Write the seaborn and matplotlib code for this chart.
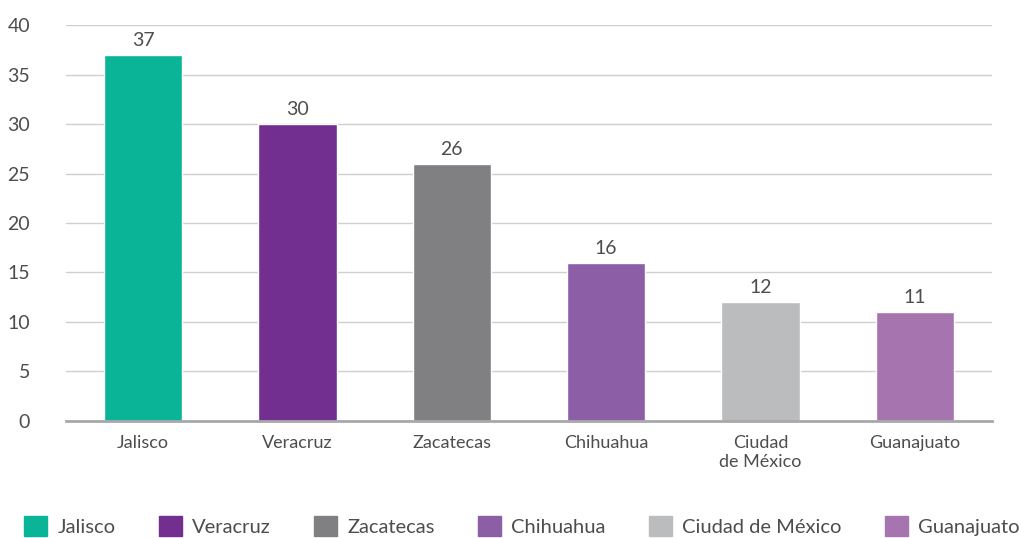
import matplotlib
matplotlib.use("Agg")
import matplotlib.pyplot as plt
import seaborn as sns
import pandas as pd

# Data
states = ["Jalisco", "Veracruz", "Zacatecas", "Chihuahua", "Ciudad de México", "Guanajuato"]
tick_labels = ["Jalisco", "Veracruz", "Zacatecas", "Chihuahua", "Ciudad\nde México", "Guanajuato"]
values = [37, 30, 26, 16, 12, 11]
colors = ["#09b596", "#722f8f", "#808083", "#8b5ea6", "#bbbcbe", "#a675b0"]

df = pd.DataFrame({"estado": states, "valor": values})

sns.set_style("white")
plt.rcParams["font.family"] = ["Lato", "DejaVu Sans"]
text_color = "#4d4d4d"

fig = plt.figure(figsize=(10.19, 5.38), dpi=100)
ax = fig.add_axes([0.0648, 0.2175, 0.9087, 0.736])

sns.barplot(data=df, x="estado", y="valor", hue="estado", palette=colors,
            width=0.506, dodge=False, legend=False, ax=ax, saturation=1)

for i, v in enumerate(values):
    ax.text(i, v + 0.6, str(v), ha="center", va="bottom", fontsize=14, color=text_color)

ax.set_ylim(0, 40)
ax.set_xlim(-0.5, len(states) - 0.5)
ax.set_yticks(range(0, 41, 5))
ax.yaxis.grid(True, color="#cfcfcf", linewidth=1)
ax.set_axisbelow(True)
ax.set_xticks(range(len(states)))
ax.set_xticklabels(tick_labels, fontsize=13, color=text_color, linespacing=1.25)
ax.tick_params(axis="y", labelsize=14, colors=text_color, length=0, pad=26)
ax.tick_params(axis="x", length=0, pad=10)
ax.set_xlabel("")
ax.set_ylabel("")
for s in ["top", "right", "left"]:
    ax.spines[s].set_visible(False)
ax.spines["bottom"].set_color("#a8a8aa")
ax.spines["bottom"].set_linewidth(2)

handles = [plt.Rectangle((0, 0), 1, 1, color=c) for c in colors]
fig.legend(handles, states, loc="center", bbox_to_anchor=(0.512, 0.022), ncol=6,
           frameon=False, fontsize=14.5, handlelength=1.15, handleheight=1.15,
           handletextpad=0.5, columnspacing=2.15, labelcolor=text_color,
           borderpad=0.1)

fig.savefig("out.png", dpi=100)
